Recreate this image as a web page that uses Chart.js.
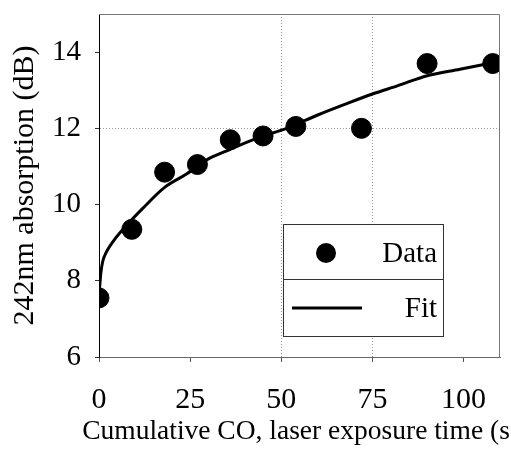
<!DOCTYPE html>
<html>
<head>
<meta charset="utf-8">
<script src="https://cdn.jsdelivr.net/npm/chart.js@4/dist/chart.umd.min.js"></script>
<style>
  html, body { margin: 0; padding: 0; background: #fff; }
  #wrap { width: 511px; height: 450px; }
</style>
</head>
<body>
<div id="wrap"><canvas id="c"></canvas></div>
<script>
// measured points
const dataX = [0, 9, 18, 27, 36, 45, 54, 72, 90, 108];
const dataY = [7.55, 9.35, 10.85, 11.05, 11.7, 11.8, 12.05, 12.0, 13.7, 13.7];
// fit curve
const fitX = [0, 0.5, 1, 2, 4, 8, 12, 18, 24, 30, 36, 43, 52, 60, 68, 75, 82, 90, 99, 108];
const fitY = [7.6, 8.2, 8.5, 8.75, 9.05, 9.5, 9.9, 10.45, 10.8, 11.2, 11.45, 11.73, 12.02, 12.35, 12.65, 12.9, 13.12, 13.38, 13.55, 13.72];
const xTicks = [0, 25, 50, 75, 100];
const yTicks = [6, 8, 10, 12, 14];
const gridX = [50, 75];
const gridY = [12];
const xTitle = 'Cumulative CO, laser exposure time (s';

const serif = "'Liberation Serif', 'DejaVu Serif', serif";

// box around plot, x title (chart.js squeezes it to the axis width) and the framed legend
const framePlugin = {
  id: 'frame',
  afterDraw(chart) {
    const ctx = chart.ctx;
    const a = chart.chartArea;
    ctx.save();
    ctx.strokeStyle = '#777';
    ctx.lineWidth = 1;
    ctx.beginPath();
    ctx.moveTo(a.left, a.top + 0.5);
    ctx.lineTo(a.right - 0.5, a.top + 0.5);
    ctx.lineTo(a.right - 0.5, a.bottom);
    ctx.stroke();

    ctx.fillStyle = '#000';
    ctx.font = '27.5px ' + serif;
    ctx.textAlign = 'center';
    ctx.textBaseline = 'middle';
    ctx.fillText(xTitle, 296, 432);

    // legend
    const lx = 283, ly = 224, lw = 160, lh = 112, mid = 279;
    ctx.fillStyle = '#fff';
    ctx.fillRect(lx, ly, lw, lh);
    ctx.strokeStyle = '#333';
    ctx.strokeRect(lx + 0.5, ly + 0.5, lw, lh);
    ctx.beginPath();
    ctx.moveTo(lx, mid + 0.5);
    ctx.lineTo(lx + lw, mid + 0.5);
    ctx.stroke();

    ctx.fillStyle = '#000';
    ctx.beginPath();
    ctx.arc(326, 253, 10, 0, Math.PI * 2);
    ctx.fill();
    ctx.lineWidth = 3;
    ctx.strokeStyle = '#000';
    ctx.beginPath();
    ctx.moveTo(292, 308);
    ctx.lineTo(362, 308);
    ctx.stroke();

    ctx.font = '29px ' + serif;
    ctx.textAlign = 'right';
    ctx.fillText('Data', 437, 254);
    ctx.fillText('Fit', 437, 309);
    ctx.restore();
  }
};

const ctx = document.getElementById('c');
new Chart(ctx, {
  type: 'scatter',
  data: {
    datasets: [
      {
        label: 'Fit',
        type: 'line',
        data: fitX.map((x, i) => ({ x: x, y: fitY[i] })),
        borderColor: '#000',
        borderWidth: 3,
        pointRadius: 0,
        cubicInterpolationMode: 'monotone',
        fill: false,
        order: 2
      },
      {
        label: 'Data',
        data: dataX.map((x, i) => ({ x: x, y: dataY[i] })),
        backgroundColor: '#000',
        borderColor: '#000',
        pointRadius: 10,
        pointHoverRadius: 10,
        order: 1
      }
    ]
  },
  options: {
    responsive: true,
    maintainAspectRatio: false,
    animation: false,
    layout: { padding: { top: 14, right: 8, left: 0, bottom: 0 } },
    plugins: {
      legend: { display: false },
      tooltip: { enabled: false }
    },
    scales: {
      x: {
        type: 'linear',
        min: 0,
        max: 110,
        afterBuildTicks: (s) => { s.ticks = xTicks.map(v => ({ value: v })); },
        afterFit: (s) => { s.height = 93; s.paddingLeft = 0; s.paddingRight = 0; },
        ticks: {
          color: '#000',
          font: { family: serif, size: 30 },
          padding: 20,
          maxRotation: 0
        },
        grid: {
          color: (c) => gridX.includes(c.tick && c.tick.value) ? '#999' : 'rgba(0,0,0,0)',
          lineWidth: 1,
          tickColor: '#555',
          tickLength: 5,
          drawTicks: true
        },
        border: { color: '#666', width: 1, dash: [1, 2] },
        title: { display: false }
      },
      y: {
        min: 6,
        max: 15,
        afterBuildTicks: (s) => { s.ticks = yTicks.map(v => ({ value: v })); },
        afterFit: (s) => { s.width = 99; s.paddingTop = 0; s.paddingBottom = 0; },
        ticks: {
          color: '#000',
          font: { family: serif, size: 29 },
          padding: 14
        },
        grid: {
          color: (c) => gridY.includes(c.tick && c.tick.value) ? '#999' : 'rgba(0,0,0,0)',
          lineWidth: 1,
          tickColor: '#333',
          tickLength: 4
        },
        border: { color: '#000', width: 1, dash: [1, 2] },
        title: {
          display: true,
          text: '242nm absorption (dB)',
          color: '#000',
          font: { family: serif, size: 30 },
          padding: { top: 7, bottom: 0 }
        }
      }
    }
  },
  plugins: [framePlugin]
});
</script>
</body>
</html>
